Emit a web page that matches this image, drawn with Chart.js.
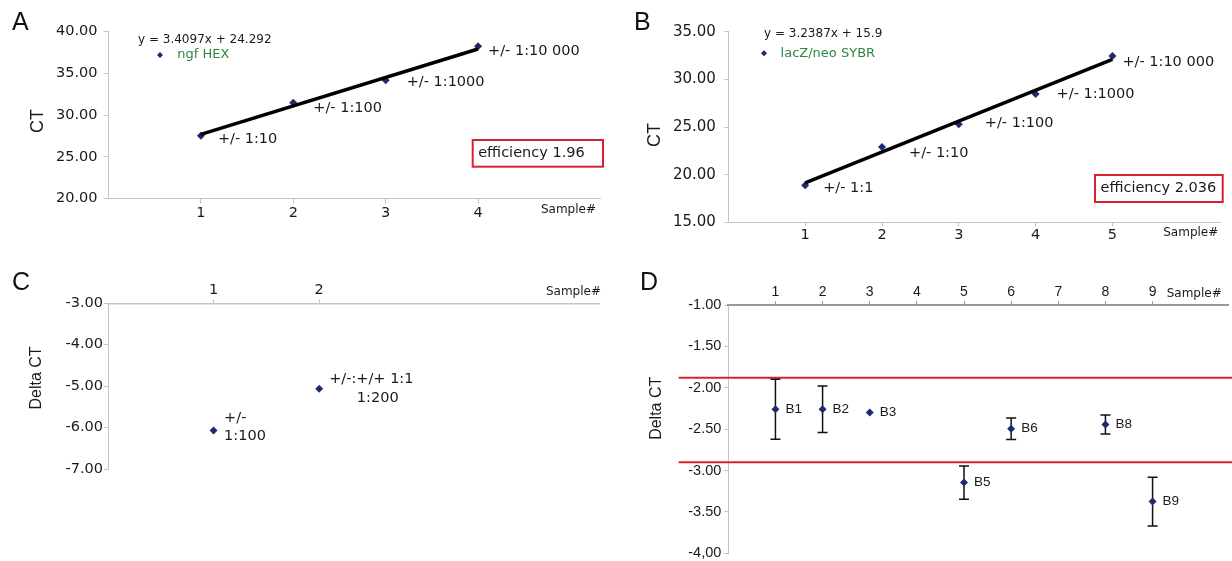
<!DOCTYPE html>
<html lang="en">
<head>
<meta charset="UTF-8">
<title>Standard curves and delta CT</title>
<style>
    * { margin: 0; padding: 0; box-sizing: border-box; }
    body { width: 1232px; height: 561px; background: #fff; overflow: hidden; position: relative; }
    canvas { position: absolute; }
    .letter {
        position: absolute;
        font-family: "Liberation Sans", Arial, sans-serif;
        font-size: 25px;
        line-height: 25px;
        color: #111;
    }
</style>
</head>
<body>
    <canvas id="chartA" width="606" height="250" style="left:0;top:0"></canvas>
    <canvas id="chartB" width="632" height="250" style="left:600px;top:0"></canvas>
    <canvas id="chartC" width="606" height="320" style="left:0;top:250px"></canvas>
    <canvas id="chartD" width="632" height="320" style="left:600px;top:250px"></canvas>

    <div class="letter" style="left:12px;top:9px">A</div>
    <div class="letter" style="left:634px;top:9px">B</div>
    <div class="letter" style="left:12px;top:269px">C</div>
    <div class="letter" style="left:640px;top:269px">D</div>

<script src="https://cdn.jsdelivr.net/npm/chart.js"></script>
<script>
// ---- data ----
// A: ngf HEX dilution series
const samplesA = [1, 2, 3, 4];
const ctA = [27.55, 31.5, 34.2, 38.25];
const dilutionsA = ['+/- 1:10', '+/- 1:100', '+/- 1:1000', '+/- 1:10 000'];
const yTicksA = [20, 25, 30, 35, 40];
const slopeA = 3.4097;
const interceptA = 24.292;
const effA = 1.96;

// B: lacZ/neo SYBR dilution series
const samplesB = [1, 2, 3, 4, 5];
const ctB = [18.9, 22.9, 25.3, 28.45, 32.45];
const dilutionsB = ['+/- 1:1', '+/- 1:10', '+/- 1:100', '+/- 1:1000', '+/- 1:10 000'];
const yTicksB = [15, 20, 25, 30, 35];
const slopeB = 3.2387;
const interceptB = 15.9;
const effB = 2.036;

// C: delta CT of two mixes
const samplesC = [1, 2];
const deltaC = [-6.07, -5.06];
const labelsC = [['+/-', '1:100'], ['+/-:+/+ 1:1', '      1:200']];
const yTicksC = [-7, -6, -5, -4, -3];

// D: delta CT per sample with error bars
const samplesD = [1, 2, 3, 5, 6, 8, 9];
const deltaD = [-2.26, -2.26, -2.30, -3.146, -2.494, -2.444, -3.375];
const errD = [0.363, 0.28, 0, 0.2, 0.13, 0.115, 0.295];
const namesD = ['B1', 'B2', 'B3', 'B5', 'B6', 'B8', 'B9'];
const limitsD = [-1.88, -2.90];
const xTicksD = [1, 2, 3, 4, 5, 6, 7, 8, 9];
const yTicksD = [-4, -3.5, -3, -2.5, -2, -1.5, -1];
const yLabelsD = ['-4,00', '-3.50', '-3.00', '-2.50', '-2.00', '-1.50', '-1.00'];

// label nudges (px) from each point
const nudgeA = [[17, 4], [20, 6], [21, 2], [10, 5]];
const nudgeB = [[18, 3], [27, 6], [26, -1], [21, 0], [10, 6]];
const nudgeC = [[10.5, -12.5], [10, -9]];

// ---- styling ----
const WIDE = '"DejaVu Sans", sans-serif';
const NARROW = '"Liberation Sans", Arial, sans-serif';
const NAVY = '#1f2a6e';
const GREEN = '#2e8540';
const RED = '#d8202f';
const AXIS = '#c4c4c4';
const INK = '#1a1a1a';

function text(ctx, str, x, y, size, family, color, align) {
    ctx.save();
    ctx.font = size + 'px ' + family;
    ctx.fillStyle = color || INK;
    ctx.textAlign = align || 'left';
    ctx.textBaseline = 'middle';
    ctx.fillText(str, x, y);
    ctx.restore();
}

function vtext(ctx, str, x, y, size) {
    ctx.save();
    ctx.translate(x, y);
    ctx.rotate(-Math.PI / 2);
    ctx.font = size + 'px ' + NARROW;
    ctx.fillStyle = INK;
    ctx.textAlign = 'center';
    ctx.textBaseline = 'middle';
    ctx.fillText(str, 0, 0);
    ctx.restore();
}

function diamond(ctx, x, y, r) {
    ctx.save();
    ctx.fillStyle = NAVY;
    ctx.beginPath();
    ctx.moveTo(x, y - r);
    ctx.lineTo(x + r, y);
    ctx.lineTo(x, y + r);
    ctx.lineTo(x - r, y);
    ctx.closePath();
    ctx.fill();
    ctx.restore();
}

function effBox(ctx, str, x, y, w, h) {
    ctx.save();
    ctx.fillStyle = '#fff';
    ctx.fillRect(x, y, w, h);
    ctx.strokeStyle = RED;
    ctx.lineWidth = 2;
    ctx.strokeRect(x, y, w, h);
    ctx.restore();
    text(ctx, str, x + 5.5, y + h / 2, 14.5, WIDE);
}

function axis(o) {
    return {
        type: 'linear',
        position: o.position,
        min: o.min,
        max: o.max,
        afterBuildTicks: s => { s.ticks = o.ticks.map(v => ({ value: v })); },
        afterFit: s => {
            if (o.width != null) s.width = o.width;
            if (o.height != null) s.height = o.height;
        },
        grid: { drawOnChartArea: false, drawTicks: true, tickLength: o.tick, color: o.color || AXIS },
        border: { display: true, color: o.color || AXIS, width: o.lineWidth || 1 },
        ticks: {
            padding: o.pad,
            color: INK,
            autoSkip: false,
            maxRotation: 0,
            font: { family: o.family, size: o.size },
            callback: o.format || (v => String(v))
        }
    };
}

const points = (xs, ys) => xs.map((x, i) => ({ x: x, y: ys[i] }));
const fitLine = (xs, m, b) => [xs[0], xs[xs.length - 1]].map(x => ({ x: x, y: m * x + b }));

const base = {
    responsive: false,
    maintainAspectRatio: false,
    animation: false,
    events: [],
    plugins: { legend: { display: false }, tooltip: { enabled: false } }
};

// ---- A ----
new Chart(document.getElementById('chartA'), {
    type: 'scatter',
    data: {
        datasets: [
            { data: fitLine(samplesA, slopeA, interceptA), showLine: true, borderColor: '#000', borderWidth: 3.5, pointRadius: 0, order: 0 },
            { data: points(samplesA, ctA), pointStyle: 'rectRot', pointRadius: 4, backgroundColor: NAVY, borderWidth: 0, order: 1 }
        ]
    },
    options: Object.assign({}, base, {
        layout: { padding: { top: 31.7, right: 6, bottom: 0, left: 0 } },
        scales: {
            x: axis({ position: 'bottom', min: 0, max: 5.32, ticks: samplesA, height: 51.3, tick: 5, pad: 1, family: WIDE, size: 14.5 }),
            y: axis({ position: 'left', min: 20, max: 40, ticks: yTicksA, width: 108.5, tick: 5, pad: 6, family: WIDE, size: 14.5, format: v => v.toFixed(2) })
        }
    }),
    plugins: [{
        id: 'notesA',
        afterDatasetsDraw(chart) {
            const { ctx, chartArea: a, scales: { x, y } } = chart;
            samplesA.forEach((s, i) => {
                text(ctx, dilutionsA[i], x.getPixelForValue(s) + nudgeA[i][0], y.getPixelForValue(ctA[i]) + nudgeA[i][1], 14.5, WIDE);
            });
            text(ctx, 'y = ' + slopeA + 'x + ' + interceptA, a.left + 29.5, a.top + 8.3, 12, WIDE);
            diamond(ctx, a.left + 51.5, a.top + 23.3, 3);
            text(ctx, 'ngf HEX', a.left + 68.8, a.top + 23.3, 13, WIDE, GREEN);
            effBox(ctx, 'efficiency ' + effA, a.right - 127.3, a.bottom - 58.7, 130.3, 26.7);
            vtext(ctx, 'CT', 37.6, 121, 18);
            text(ctx, 'Sample#', a.right - 4, a.bottom + 11.3, 12, WIDE, INK, 'right');
        }
    }]
});

// ---- B ----
new Chart(document.getElementById('chartB'), {
    type: 'scatter',
    data: {
        datasets: [
            { data: fitLine(samplesB, slopeB, interceptB), showLine: true, borderColor: '#000', borderWidth: 3.5, pointRadius: 0, order: 0 },
            { data: points(samplesB, ctB), pointStyle: 'rectRot', pointRadius: 4, backgroundColor: NAVY, borderWidth: 0, order: 1 }
        ]
    },
    options: Object.assign({}, base, {
        layout: { padding: { top: 31.7, right: 11.3, bottom: 0, left: 0 } },
        scales: {
            x: axis({ position: 'bottom', min: 0, max: 6.41, ticks: samplesB, height: 27.7, tick: 4, pad: 0, family: WIDE, size: 14.5 }),
            y: axis({ position: 'left', min: 15, max: 35, ticks: yTicksB, width: 128.4, tick: 4, pad: 8.5, family: WIDE, size: 15, format: v => v.toFixed(2) })
        }
    }),
    plugins: [{
        id: 'notesB',
        afterDatasetsDraw(chart) {
            const { ctx, chartArea: a, scales: { x, y } } = chart;
            samplesB.forEach((s, i) => {
                text(ctx, dilutionsB[i], x.getPixelForValue(s) + nudgeB[i][0], y.getPixelForValue(ctB[i]) + nudgeB[i][1], 14.5, WIDE);
            });
            text(ctx, 'y = ' + slopeB + 'x + ' + interceptB, a.left + 35.6, a.top + 2.6, 12, WIDE);
            diamond(ctx, a.left + 35.6, a.top + 21.6, 3);
            text(ctx, 'lacZ/neo SYBR', a.left + 52.2, a.top + 21.6, 13, WIDE, GREEN);
            effBox(ctx, 'efficiency ' + effB, a.right - 125.7, a.bottom - 47.3, 127.7, 27);
            vtext(ctx, 'CT', 55.4, 135, 18);
            text(ctx, 'Sample#', a.right - 2.4, a.bottom + 10.7, 12, WIDE, INK, 'right');
        }
    }]
});

// ---- C ----
new Chart(document.getElementById('chartC'), {
    type: 'scatter',
    data: {
        datasets: [
            { data: points(samplesC, deltaC), pointStyle: 'rectRot', pointRadius: 4, backgroundColor: NAVY, borderWidth: 0 }
        ]
    },
    options: Object.assign({}, base, {
        layout: { padding: { top: 0, right: 7, bottom: 101, left: 0 } },
        scales: {
            x: axis({ position: 'top', min: 0, max: 4.65, ticks: samplesC, height: 53.3, tick: 4, pad: 0, family: WIDE, size: 14.5, lineWidth: 1.5 }),
            y: axis({ position: 'left', min: -7, max: -3, ticks: yTicksC, width: 108, tick: 4, pad: 1, family: WIDE, size: 14.5, format: v => v.toFixed(2) })
        }
    }),
    plugins: [{
        id: 'notesC',
        afterDatasetsDraw(chart) {
            const { ctx, chartArea: a, scales: { x, y } } = chart;
            samplesC.forEach((s, i) => {
                const px = x.getPixelForValue(s) + nudgeC[i][0];
                const py = y.getPixelForValue(deltaC[i]) + nudgeC[i][1];
                labelsC[i].forEach((line, k) => text(ctx, line, px, py + k * 18.5, 14.5, WIDE));
            });
            vtext(ctx, 'Delta CT', 36.6, 128, 16);
            text(ctx, 'Sample#', a.right + 2, a.top - 11.6, 12, WIDE, INK, 'right');
        }
    }]
});

// ---- D ----
new Chart(document.getElementById('chartD'), {
    type: 'scatter',
    data: {
        datasets: [
            { data: points(samplesD, deltaD), pointStyle: 'rectRot', pointRadius: 4, backgroundColor: NAVY, borderWidth: 0 }
        ]
    },
    options: Object.assign({}, base, {
        layout: { padding: { top: 0, right: 0, bottom: 16.7, left: 0 } },
        scales: {
            x: axis({ position: 'top', min: 0, max: 10.6, ticks: xTicksD, height: 55, tick: 4, pad: 0.5, family: NARROW, size: 14, color: '#9a9a9a', lineWidth: 2 }),
            y: axis({ position: 'left', min: -4, max: -1, ticks: yTicksD, width: 128.3, tick: 4, pad: 3, family: NARROW, size: 14.5, format: v => yLabelsD[yTicksD.indexOf(v)] })
        }
    }),
    plugins: [{
        id: 'notesD',
        beforeDatasetsDraw(chart) {
            const { ctx, chartArea: a, scales: { x, y } } = chart;
            ctx.save();
            ctx.strokeStyle = RED;
            ctx.lineWidth = 2;
            limitsD.forEach(v => {
                const py = y.getPixelForValue(v);
                ctx.beginPath();
                ctx.moveTo(a.left - 49.7, py);
                ctx.lineTo(chart.width, py);
                ctx.stroke();
            });
            // error bars
            ctx.strokeStyle = '#111';
            ctx.lineWidth = 1.5;
            samplesD.forEach((s, i) => {
                if (!errD[i]) return;
                const px = x.getPixelForValue(s);
                const top = y.getPixelForValue(deltaD[i] + errD[i]);
                const bot = y.getPixelForValue(deltaD[i] - errD[i]);
                ctx.beginPath();
                ctx.moveTo(px, top); ctx.lineTo(px, bot);
                ctx.moveTo(px - 5, top); ctx.lineTo(px + 5, top);
                ctx.moveTo(px - 5, bot); ctx.lineTo(px + 5, bot);
                ctx.stroke();
            });
            ctx.restore();
        },
        afterDatasetsDraw(chart) {
            const { ctx, chartArea: a, scales: { x, y } } = chart;
            samplesD.forEach((s, i) => {
                text(ctx, namesD[i], x.getPixelForValue(s) + 10, y.getPixelForValue(deltaD[i]), 13.5, NARROW);
            });
            vtext(ctx, 'Delta CT', 56.4, 158.3, 16);
            text(ctx, 'Sample#', 566.7, a.top - 11, 12, WIDE);
        }
    }]
});
</script>
</body>
</html>
